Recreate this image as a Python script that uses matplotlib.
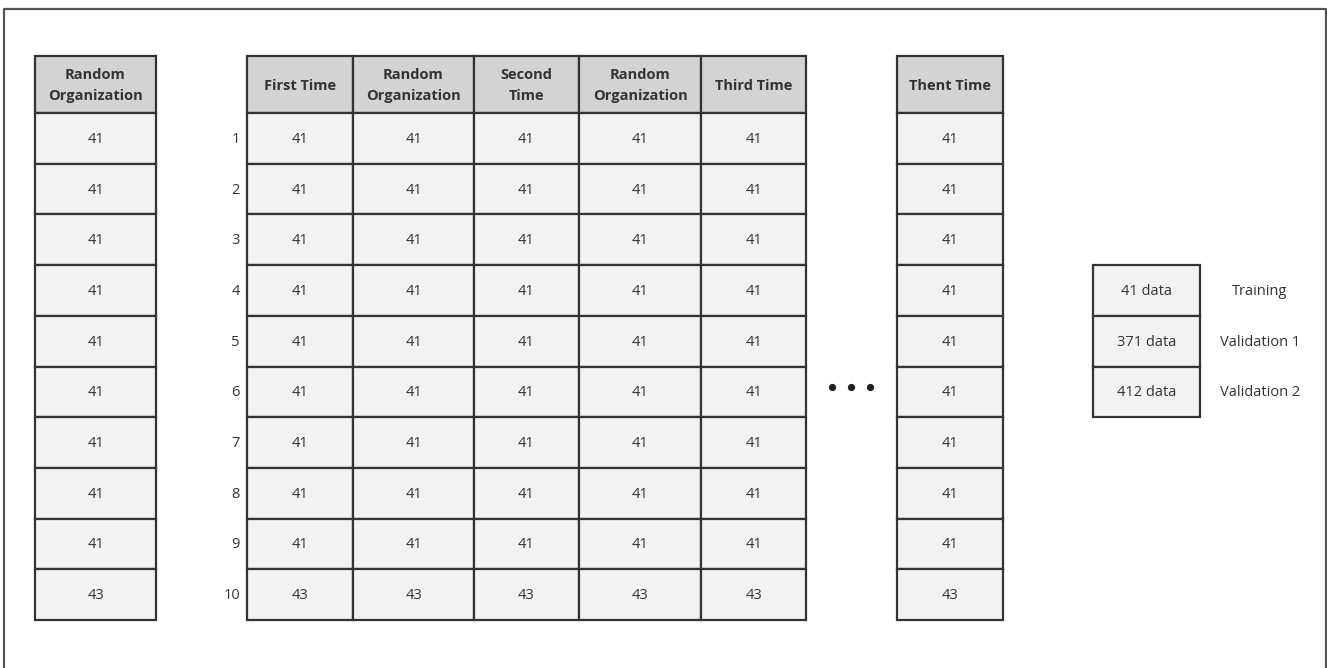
import matplotlib.pyplot as plt
from matplotlib.patches import Rectangle

plt.rcParams['font.family'] = ['Open Sans', 'DejaVu Sans']

# --------------------------------- #
# data

row_labels = ['1', '2', '3', '4', '5', '6', '7', '8', '9', '10']
left_header = 'Random\nOrganization'
left_values = [41, 41, 41, 41, 41, 41, 41, 41, 41, 43]

main_headers = ['First Time', 'Random\nOrganization', 'Second\nTime',
                'Random\nOrganization', 'Third Time']
main_values = [
    [41, 41, 41, 41, 41, 41, 41, 41, 41, 43],
    [41, 41, 41, 41, 41, 41, 41, 41, 41, 43],
    [41, 41, 41, 41, 41, 41, 41, 41, 41, 43],
    [41, 41, 41, 41, 41, 41, 41, 41, 41, 43],
    [41, 41, 41, 41, 41, 41, 41, 41, 41, 43],
]

last_header = 'Thent Time'
last_values = [41, 41, 41, 41, 41, 41, 41, 41, 41, 43]

legend_cells = ['41 data', '371 data', '412 data']
legend_names = ['Training', 'Validation 1', 'Validation 2']

# --------------------------------- #
# layout (pixels)

W, H = 1327, 668
head_top, head_bot = 56, 113
row_h = (620 - 113) / 10
left_x = (35, 156)
main_x = [247, 353, 474, 579, 701, 806]
last_x = (897, 1003)
leg_x = (1093, 1200)
leg_top = head_bot + 3 * row_h

head_fc = '#d2d3d5'
cell_fc = '#f1f2f4'
edge = '#333333'
txt = '#333333'
lw = 1.6
fs = 10.5

fig = plt.figure(figsize=(W / 100, H / 100), dpi=100)
ax = fig.add_axes([0, 0, 1, 1])
ax.set_xlim(0, W)
ax.set_ylim(H, 0)
ax.axis('off')


def cell(x0, x1, y0, y1, fc, text, bold=False):
    ax.add_patch(Rectangle((x0, y0), x1 - x0, y1 - y0, facecolor=fc,
                           edgecolor=edge, linewidth=lw))
    ax.text((x0 + x1) / 2, (y0 + y1) / 2 + 1, text, ha='center', va='center',
            fontsize=fs, color=txt, fontweight='bold' if bold else 'normal',
            linespacing=1.55)


def column(x0, x1, header, values):
    cell(x0, x1, head_top, head_bot, head_fc, header, bold=True)
    for i, v in enumerate(values):
        y0 = head_bot + i * row_h
        cell(x0, x1, y0, y0 + row_h, cell_fc, str(v))


column(left_x[0], left_x[1], left_header, left_values)
for j, (h, vals) in enumerate(zip(main_headers, main_values)):
    column(main_x[j], main_x[j + 1], h, vals)
column(last_x[0], last_x[1], last_header, last_values)

for i, lab in enumerate(row_labels):
    ax.text(240, head_bot + (i + 0.5) * row_h + 1, lab, ha='right',
            va='center', fontsize=fs, color=txt)

# dots between tables
ax.plot([832, 851, 870], [387, 387, 387], 'o', color='#222222', markersize=4.2)

# legend boxes
for i, (c, n) in enumerate(zip(legend_cells, legend_names)):
    y0 = leg_top + i * row_h
    cell(leg_x[0], leg_x[1], y0, y0 + row_h, cell_fc, c)
    ax.text(1260, y0 + row_h / 2 + 1, n, ha='center', va='center',
            fontsize=fs, color=txt)

# outer frame (top, left, right)
ax.plot([4, 4, 1325.5, 1325.5], [H, 9, 9, H], color='#555555', linewidth=1.6)

fig.savefig('out.png', dpi=100)
